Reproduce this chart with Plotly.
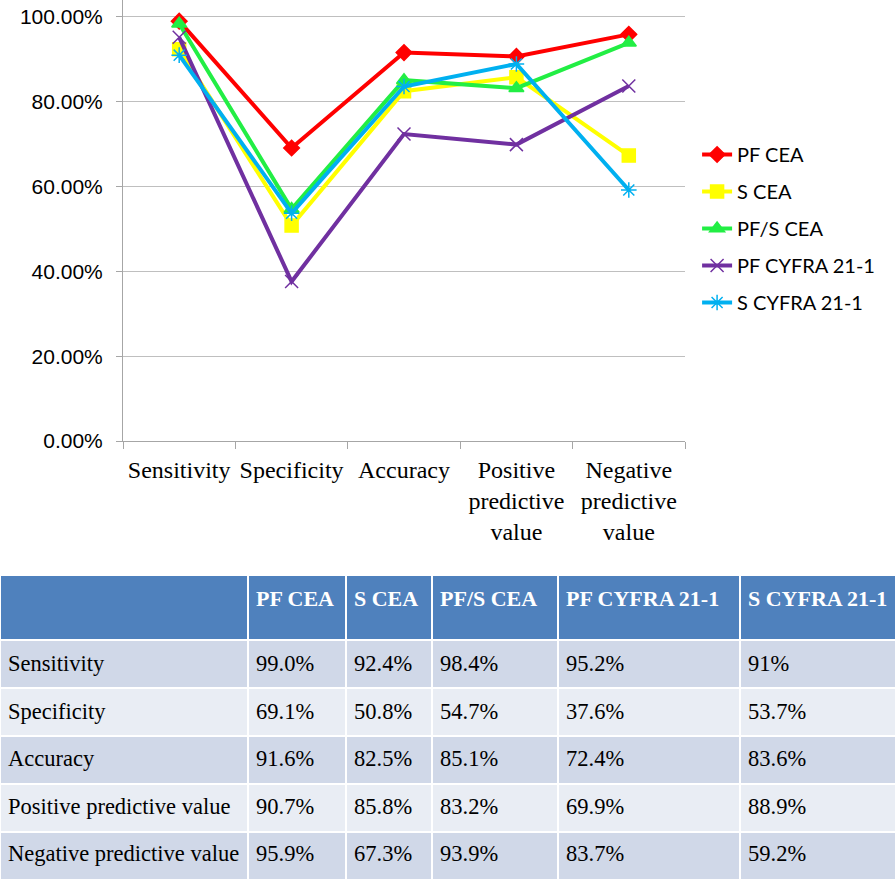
import plotly.graph_objects as go

categories = ["Sensitivity", "Specificity", "Accuracy", "Positive predictive value", "Negative predictive value"]
axis_labels = ["Sensitivity", "Specificity", "Accuracy", "Positive<br>predictive<br>value", "Negative<br>predictive<br>value"]
series_names = ["PF CEA", "S CEA", "PF/S CEA", "PF CYFRA 21-1", "S CYFRA 21-1"]
pf_cea = [99.0, 69.1, 91.6, 90.7, 95.9]
s_cea = [92.4, 50.8, 82.5, 85.8, 67.3]
pfs_cea = [98.4, 54.7, 85.1, 83.2, 93.9]
pf_cyfra = [95.2, 37.6, 72.4, 69.9, 83.7]
s_cyfra = [91, 53.7, 83.6, 88.9, 59.2]

series = [pf_cea, s_cea, pfs_cea, pf_cyfra, s_cyfra]
colors = ["#FF0000", "#FFFF00", "#22EE44", "#7030A0", "#00B0F0"]
symbols = ["diamond", "square", "triangle-up", "x-thin", "asterisk"]
msizes = [12, 13, 13, 13, 13]

fig = go.Figure()
for name, vals, c, s, ms in zip(series_names, series, colors, symbols, msizes):
    fig.add_trace(go.Scatter(
        x=axis_labels, y=[v / 100 for v in vals], name=name, mode="lines+markers",
        legendgroup=name,
        line=dict(color=c, width=4),
        marker=dict(symbol=s, size=ms, color=c, line=dict(color=c, width=1.5)),
    ))

def shifted(txt, size, bold=False):
    t = f"<b>{txt}</b>" if bold else txt
    return f"<br><span style='font-size:{size}px'>{t}</span>"

cell_cols = [[shifted(c, 22.5) for c in categories]]
for vals in series:
    col = []
    for v in vals:
        col.append(shifted(f"{v}%" if isinstance(v, int) else f"{v:.1f}%", 22.5))
    cell_cols.append(col)

col_widths = [248, 98, 86, 126, 182, 156]
row_fill = ["#D0D8E8", "#E9EDF4", "#D0D8E8", "#E9EDF4", "#D0D8E8"]

# background table (fills and white rules)
fig.add_trace(go.Table(
    domain=dict(x=[0, 1], y=[0, 1 - 575 / 881]),
    columnwidth=col_widths,
    header=dict(values=[""] * 6, fill_color="#4F81BD",
                line=dict(color="white", width=2), height=65),
    cells=dict(values=[[""] * 5 for _ in range(6)], fill_color=[row_fill] * 6,
               line=dict(color="white", width=2), height=48),
))

# text layer
fig.add_trace(go.Table(
    domain=dict(x=[0, 1], y=[0, 1 - 578 / 881]),
    columnwidth=col_widths,
    header=dict(
        values=[""] + [shifted(n, 22, bold=True) for n in series_names],
        fill_color="rgba(0,0,0,0)", line=dict(color="rgba(0,0,0,0)", width=0),
        font=dict(family="Liberation Serif", size=16, color="white"),
        align="left", height=65,
    ),
    cells=dict(
        values=cell_cols,
        fill_color="rgba(0,0,0,0)", line=dict(color="rgba(0,0,0,0)", width=0),
        font=dict(family="Liberation Serif", size=12, color="black"),
        align="left", height=47.5,
    ),
))

fig.update_layout(
    width=896, height=881,
    margin=dict(l=0, r=0, t=0, b=0),
    paper_bgcolor="white", plot_bgcolor="white",
    showlegend=True,
    legend=dict(x=0.778, y=1 - 135 / 881, xanchor="left", yanchor="top",
                font=dict(family="Lato", size=20, color="black"),
                itemwidth=30, tracegroupgap=8),
    xaxis=dict(domain=[123 / 896, 685 / 896], type="category", automargin=False,
               range=[-0.5, 4.5], tickangle=0,
               showline=True, linecolor="#A6A6A6", linewidth=1,
               ticks="outside", tickson="boundaries", ticklen=7, tickcolor="#A6A6A6",
               showgrid=False, tickfont=dict(family="Liberation Serif", size=24, color="black"),
               ticklabelstandoff=7),
    yaxis=dict(domain=[1 - 441 / 881, 1.0], range=[0, 1.04], tickvals=[0, 0.2, 0.4, 0.6, 0.8, 1.0],
               tickformat=".2%", showline=True, linecolor="#A6A6A6", linewidth=1, automargin=False,
               ticks="outside", ticklen=6, tickcolor="#A6A6A6",
               showgrid=True, gridcolor="#BFBFBF", gridwidth=1, zeroline=False,
               tickfont=dict(family="Liberation Sans", size=21, color="black"),
               ticklabelstandoff=9),
)

fig.write_html("out.html", config={"displayModeBar": False},
               post_script="document.body.style.margin='0';")
